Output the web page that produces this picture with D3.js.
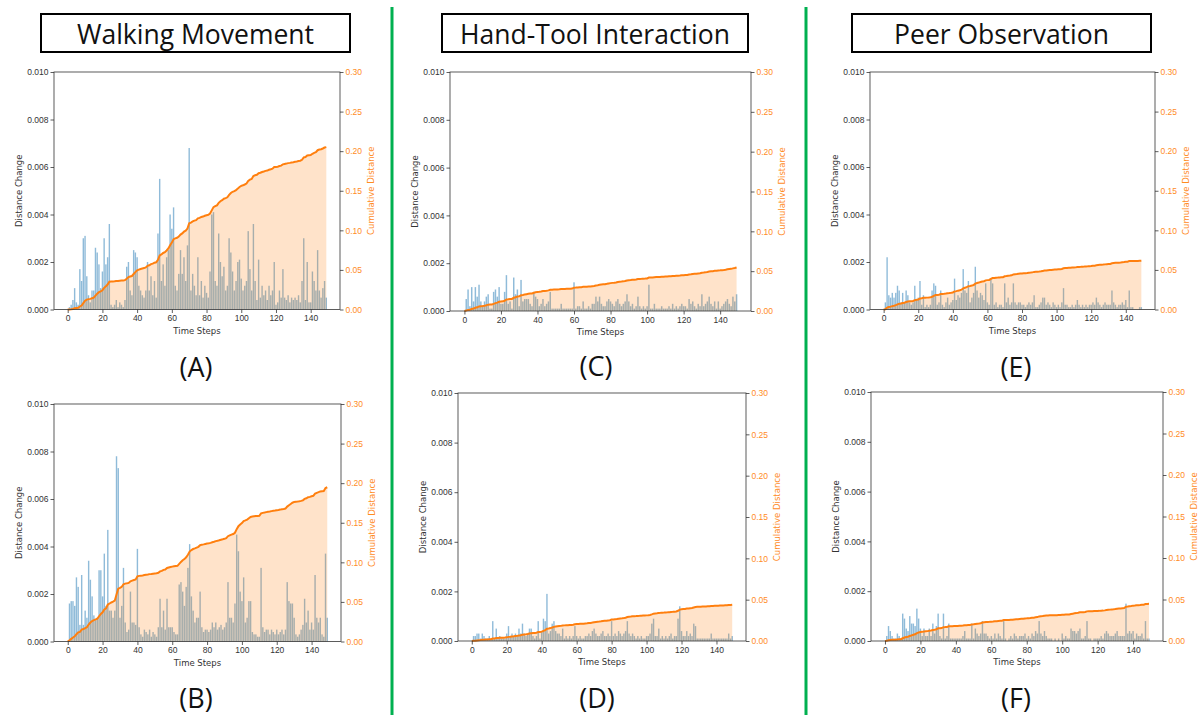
<!DOCTYPE html>
<html lang="en">
<head>
<meta charset="utf-8">
<title>Distance change over time steps</title>
<script src="https://d3js.org/d3.v7.min.js"></script>
<style>
body { margin: 0; background: #fff; }
svg  { display: block; font-family: "DejaVu Sans", sans-serif; }
.tick text { font-size: 8.5px; fill: #333; }
.tick line { stroke: #333; stroke-width: 0.8; }
.right .tick text { fill: #ff8c1f; }
.title { font-family: "Open Sans", sans-serif; font-size: 26.5px; fill: #111; }
.panel-label { font-family: "Open Sans", sans-serif; font-size: 27px; fill: #111; }
</style>
</head>
<body>
<script>

// distance change per time step, in units of 1e-4
var SCALE = 1e-4;

var walkingA = [
  0,1,2,4,9,3,2,17,12,30,  31,14,6,3,8,8,26,24,19,9,
  16,30,19,22,36,2,1,2,4,1,  3,2,1,4,18,20,8,6,25,24,
  22,10,8,6,5,8,20,8,14,6,  12,5,32,55,12,19,10,22,25,40,
  34,43,10,8,15,25,15,22,12,27,  68,8,15,10,6,22,6,12,5,10,
  7,5,16,40,41,12,10,32,20,14,  18,8,10,30,24,16,8,12,20,21,
  13,8,10,12,33,17,8,36,12,4,  21,5,10,6,8,4,10,6,8,20,
  2,3,8,5,17,5,4,6,3,5,  4,5,4,6,3,12,30,4,20,3,
  3,16,12,8,25,8,5,9,12,5];

var walkingB = [
  0,16,17,17,15,27,23,7,28,7,  13,10,34,26,19,11,9,10,30,30,
  19,37,15,47,13,13,10,13,78,73,  10,15,31,8,4,5,21,8,8,7,
  39,6,3,2,5,4,3,5,2,4,  3,2,6,18,6,13,5,18,6,6,
  6,4,3,3,24,25,21,15,23,31,  41,19,13,8,10,10,21,6,4,5,
  5,4,5,8,6,8,5,6,7,5,  6,8,25,10,10,8,16,45,38,21,
  17,27,8,10,17,17,4,3,3,2,  2,31,6,4,5,5,3,5,4,3,
  5,3,4,5,3,5,25,17,16,16,  10,3,2,3,5,7,18,8,13,5,
  8,5,28,10,8,10,3,2,37,10];

var handToolC = [
  0,5,9,2,10,4,10,6,11,4,  2,4,6,7,1,1,8,9,6,10,
  3,3,8,15,3,4,1,14,7,9,  2,13,4,5,5,5,3,2,8,6,
  5,2,3,5,2,3,4,8,1,1,  1,1,1,3,1,1,1,1,1,1,
  12,1,2,2,1,4,1,1,2,1,  3,3,6,4,6,3,2,2,4,5,
  4,3,2,4,5,3,2,3,4,7,  4,2,3,1,2,6,2,1,2,1,
  2,11,1,1,3,1,1,1,2,1,  1,1,2,1,3,1,2,1,2,3,
  2,2,1,5,3,4,2,1,3,2,  7,2,3,4,6,3,2,4,1,4,
  1,2,3,4,5,3,2,6,4,7];

var handToolD = [
  0,2,2,3,3,1,3,2,1,1,  2,1,8,1,5,1,2,1,1,1,
  3,6,2,3,2,3,2,5,3,7,  3,2,3,5,5,2,1,2,8,1,
  4,9,8,19,3,4,7,8,4,3,  3,2,5,1,2,1,2,1,2,6,
  2,1,2,1,1,2,2,3,2,4,  5,3,2,2,3,4,2,2,3,2,
  8,2,3,2,4,3,2,3,4,8,  3,2,3,2,1,2,1,2,1,1,
  2,2,3,7,9,2,2,5,1,2,  1,2,1,2,3,1,2,2,9,14,
  4,2,2,4,2,3,2,7,6,1,  1,1,1,1,1,1,1,3,1,1,
  1,1,1,1,1,1,1,3,1,2];

var peerE = [
  0,3,22,6,5,7,5,7,10,8,  3,7,3,8,6,3,2,3,10,4,
  5,12,2,6,1,2,1,2,8,11,  10,2,3,8,2,1,3,5,2,3,
  4,13,4,6,5,7,17,8,7,12,  3,5,7,18,8,5,7,6,4,11,
  3,2,13,11,2,3,1,2,2,1,  11,3,5,2,3,11,3,2,3,3,
  2,2,1,2,3,2,3,6,1,1,  2,3,5,5,2,3,2,1,3,2,
  1,2,1,3,9,2,2,1,1,2,  1,2,4,2,1,2,1,2,1,2,
  2,3,2,5,3,2,1,2,3,2,  2,2,8,3,2,1,2,2,3,2,
  4,1,8,1,1,0,0,0,1,1];

var peerF = [
  0,2,6,4,2,1,1,3,2,1,  11,9,5,4,10,7,7,6,13,9,
  5,2,5,2,2,5,2,7,3,6,  11,2,1,11,1,2,7,1,1,1,
  1,1,1,1,2,4,1,1,1,7,  1,5,3,2,3,8,3,3,2,1,
  2,1,3,1,3,2,1,8,1,0,  1,2,1,3,2,1,2,2,2,3,
  1,2,1,3,2,4,3,8,3,2,  4,2,1,1,1,0,1,0,1,0,
  3,1,2,1,1,5,4,4,3,4,  5,1,1,2,8,1,1,0,1,1,
  1,1,2,1,3,4,3,2,2,2,  3,4,2,2,2,2,15,3,4,3,
  4,1,3,2,2,3,1,8,1,1];

var titles = ["Walking Movement", "Hand-Tool Interaction", "Peer Observation"];
var panelNames = ["(A)", "(B)", "(C)", "(D)", "(E)", "(F)"];
var timeTicks = [0, 20, 40, 60, 80, 100, 120, 140];
var distTicks = [0, 0.002, 0.004, 0.006, 0.008, 0.010];
var cumTicks = [0, 0.05, 0.10, 0.15, 0.20, 0.25, 0.30];

var W = 1200, H = 715;
var svg = d3.select("body").append("svg")
    .attr("width", W)
    .attr("height", H);

// frames of each subplot (pixel boxes of the pasted figures)
var panels = [
  {values: walkingA,  left: 54,  right: 340,  top: 72,  bottom: 309.5, lx: 196,  ly: 366},
  {values: walkingB,  left: 54,  right: 341,  top: 404, bottom: 641.5, lx: 196,  ly: 697},
  {values: handToolC, left: 450, right: 751,  top: 72,  bottom: 311,   lx: 596,  ly: 365},
  {values: handToolD, left: 458, right: 746,  top: 393, bottom: 641,   lx: 597,  ly: 697},
  {values: peerE,     left: 870, right: 1155, top: 72,  bottom: 309.5, lx: 1016, ly: 366},
  {values: peerF,     left: 871, right: 1163, top: 392, bottom: 641,   lx: 1016, ly: 697}
];

var titleBoxes = [
  {x: 41,  y: 14, w: 309, h: 38},
  {x: 442, y: 14, w: 306, h: 38},
  {x: 852, y: 14, w: 299, h: 38}
];

// green separators
[392, 806].forEach(function(gx) {
  svg.append("line")
    .attr("x1", gx).attr("x2", gx)
    .attr("y1", 7).attr("y2", H)
    .attr("stroke", "#00b050")
    .attr("stroke-width", 3);
});

// column titles
titleBoxes.forEach(function(b, i) {
  svg.append("rect")
    .attr("x", b.x).attr("y", b.y)
    .attr("width", b.w).attr("height", b.h)
    .attr("fill", "none")
    .attr("stroke", "#000")
    .attr("stroke-width", 2);
  svg.append("text")
    .attr("class", "title")
    .attr("x", b.x + b.w / 2)
    .attr("y", b.y + b.h / 2 + 1)
    .attr("text-anchor", "middle")
    .attr("dominant-baseline", "central")
    .text(titles[i]);
});

panels.forEach(function(p, k) {
  var vals = p.values.map(function(v) { return v * SCALE; });
  var cum = Array.from(d3.cumsum(vals));
  var idx = d3.range(vals.length);

  // matplotlib bar autoscale: bars of width 0.8 plus 5% margins
  var x  = d3.scaleLinear().domain([-7.89, 156.89]).range([p.left, p.right]);
  var y  = d3.scaleLinear().domain([0, 0.010]).range([p.bottom, p.top]);
  var y2 = d3.scaleLinear().domain([0, 0.30]).range([p.bottom, p.top]);

  var g = svg.append("g");

  g.selectAll(".bar")
    .data(vals)
    .enter()
    .append("rect")
    .attr("class", "bar")
    .attr("x", function(d, i) { return x(i - 0.4); })
    .attr("width", x(0.8) - x(0))
    .attr("y", function(d) { return y(d); })
    .attr("height", function(d) { return p.bottom - y(d); })
    .attr("fill", "#1f77b4")
    .attr("fill-opacity", 0.5);

  var area = d3.area()
    .x(function(i) { return x(i); })
    .y0(p.bottom)
    .y1(function(i) { return y2(cum[i]); });

  var line = d3.line()
    .x(function(i) { return x(i); })
    .y(function(i) { return y2(cum[i]); });

  g.append("path")
    .datum(idx)
    .attr("d", area)
    .attr("fill", "#ff7f0e")
    .attr("fill-opacity", 0.22);

  g.append("path")
    .datum(idx)
    .attr("d", line)
    .attr("fill", "none")
    .attr("stroke", "#ff7f0e")
    .attr("stroke-width", 2);

  // spines
  g.append("rect")
    .attr("x", p.left).attr("y", p.top)
    .attr("width", p.right - p.left)
    .attr("height", p.bottom - p.top)
    .attr("fill", "none")
    .attr("stroke", "#333")
    .attr("stroke-width", 0.8);

  var ax = g.append("g")
    .attr("transform", "translate(0," + p.bottom + ")")
    .call(d3.axisBottom(x).tickValues(timeTicks).tickSize(3.5).tickSizeOuter(0).tickPadding(2));
  var ay = g.append("g")
    .attr("transform", "translate(" + p.left + ",0)")
    .call(d3.axisLeft(y).tickValues(distTicks).tickFormat(d3.format(".3f")).tickSize(3.5).tickSizeOuter(0).tickPadding(2));
  var ay2 = g.append("g")
    .attr("class", "right")
    .attr("transform", "translate(" + p.right + ",0)")
    .call(d3.axisRight(y2).tickValues(cumTicks).tickFormat(d3.format(".2f")).tickSize(3.5).tickSizeOuter(0).tickPadding(2));
  [ax, ay, ay2].forEach(function(a) {
    a.select(".domain").remove();
    a.selectAll("text").attr("font-family", null).attr("font-size", null);
  });

  g.append("text")
    .attr("x", (p.left + p.right) / 2)
    .attr("y", p.bottom + 21)
    .attr("text-anchor", "middle")
    .attr("dominant-baseline", "central")
    .attr("font-size", 8.5)
    .attr("fill", "#333")
    .text("Time Steps");

  g.append("text")
    .attr("transform", "translate(" + (p.left - 35) + "," + ((p.top + p.bottom) / 2) + ") rotate(-90)")
    .attr("text-anchor", "middle")
    .attr("dominant-baseline", "central")
    .attr("font-size", 8.5)
    .attr("fill", "#333")
    .text("Distance Change");

  g.append("text")
    .attr("transform", "translate(" + (p.right + 31) + "," + ((p.top + p.bottom) / 2) + ") rotate(-90)")
    .attr("text-anchor", "middle")
    .attr("dominant-baseline", "central")
    .attr("font-size", 8.5)
    .attr("fill", "#ff8c1f")
    .text("Cumulative Distance");

  svg.append("text")
    .attr("class", "panel-label")
    .attr("x", p.lx)
    .attr("y", p.ly)
    .attr("text-anchor", "middle")
    .attr("dominant-baseline", "central")
    .text(panelNames[k]);
});

</script>
</body>
</html>
